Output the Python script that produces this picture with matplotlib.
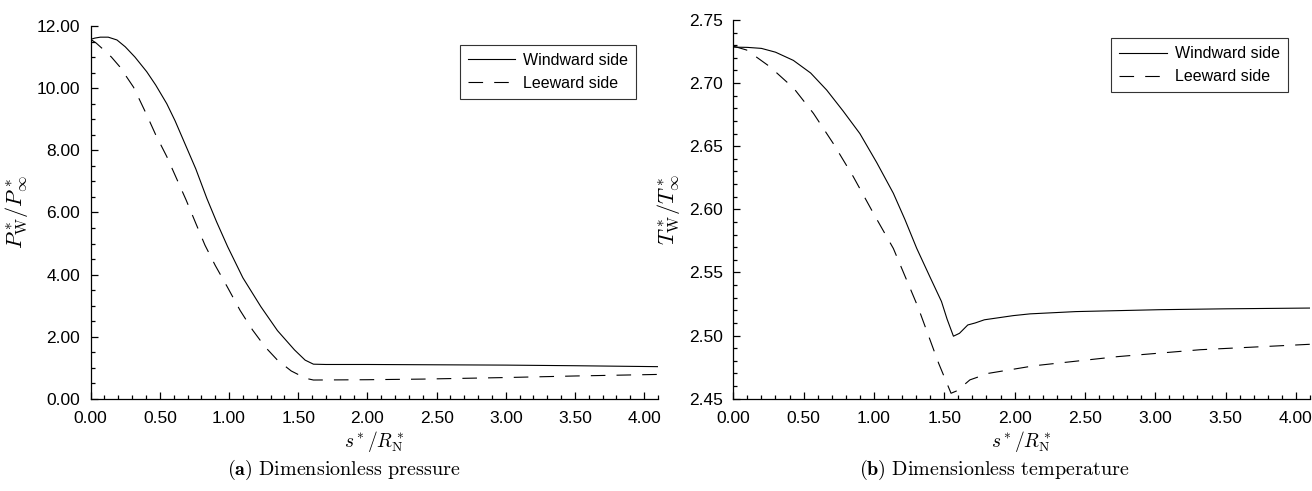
import matplotlib
matplotlib.use("Agg")
import matplotlib.pyplot as plt
from matplotlib.ticker import MultipleLocator, FormatStrFormatter

plt.rcParams["font.family"] = ["Liberation Sans", "DejaVu Sans"]
plt.rcParams["mathtext.fontset"] = "cm"
plt.rcParams["lines.scale_dashes"] = False

# (a) dimensionless wall pressure
s_p_wind = [0, 0.03, 0.07, 0.127, 0.19, 0.25, 0.32, 0.405, 0.47, 0.55, 0.61,
            0.67, 0.76, 0.84, 0.91, 0.99, 1.1, 1.23, 1.35, 1.473, 1.55, 1.61,
            1.7, 2.0, 2.5, 3.0, 3.5, 4.1]
p_wind = [11.57, 11.61, 11.64, 11.64, 11.55, 11.33, 11.0, 10.53, 10.1, 9.5,
          8.95, 8.33, 7.4, 6.45, 5.7, 4.9, 3.9, 2.97, 2.2, 1.58, 1.25, 1.12,
          1.11, 1.11, 1.10, 1.09, 1.07, 1.04]
s_p_lee = [0, 0.04, 0.09, 0.15, 0.21, 0.31, 0.40, 0.47, 0.55, 0.62, 0.69,
           0.76, 0.826, 0.9, 0.987, 1.08, 1.17, 1.26, 1.35, 1.45, 1.53, 1.57,
           1.61, 2.0, 2.4, 3.0, 3.5, 4.1]
p_lee = [11.57, 11.45, 11.25, 11.0, 10.69, 10.03, 9.19, 8.5, 7.80, 7.1, 6.40,
         5.65, 4.95, 4.3, 3.61, 2.85, 2.22, 1.68, 1.25, 0.9, 0.72, 0.65,
         0.61, 0.62, 0.64, 0.69, 0.74, 0.79]

# (b) dimensionless wall temperature
s_t_wind = [0, 0.1, 0.2, 0.3, 0.427, 0.55, 0.664, 0.78, 0.90, 1.02, 1.138,
            1.22, 1.304, 1.40, 1.48, 1.52, 1.565, 1.608, 1.667, 1.72, 1.785,
            1.99, 2.11, 2.436, 3.03, 3.5, 4.1]
t_wind = [2.7285, 2.7283, 2.7275, 2.7245, 2.718, 2.708, 2.6945, 2.678, 2.660,
          2.637, 2.6127, 2.592, 2.5691, 2.546, 2.527, 2.513, 2.4995, 2.5018,
          2.5084, 2.510, 2.5125, 2.5158, 2.5172, 2.5190, 2.5205, 2.5212, 2.5218]
s_t_lee = [0, 0.095, 0.26, 0.43, 0.57, 0.71, 0.853, 0.996, 1.138, 1.312, 1.46,
           1.548, 1.593, 1.682, 1.815, 2.14, 2.73, 3.32, 4.1]
t_lee = [2.7293, 2.7262, 2.713, 2.6959, 2.676, 2.6523, 2.6259, 2.5969, 2.569,
         2.5229, 2.478, 2.4543, 2.4564, 2.4649, 2.4701, 2.4761, 2.4833, 2.4888,
         2.4931]

labels = ["Windward side", "Leeward side"]


def style_axes(ax, ylim, ymajor, yminor):
    ax.set_xlim(0, 4.1)
    ax.set_ylim(*ylim)
    for side in ("top", "right"):
        ax.spines[side].set_visible(False)
    for side in ("left", "bottom"):
        ax.spines[side].set_linewidth(0.9)
    ax.xaxis.set_major_locator(MultipleLocator(0.5))
    ax.xaxis.set_minor_locator(MultipleLocator(0.1))
    ax.yaxis.set_major_locator(MultipleLocator(ymajor))
    ax.yaxis.set_minor_locator(MultipleLocator(yminor))
    ax.xaxis.set_major_formatter(FormatStrFormatter("%.2f"))
    ax.yaxis.set_major_formatter(FormatStrFormatter("%.2f"))
    ax.tick_params(which="both", direction="in", top=False, right=False,
                   labelsize=12.5, width=0.9)
    ax.tick_params(which="major", length=5)
    ax.tick_params(which="minor", length=3)
    ax.tick_params(axis="x", pad=9)
    ax.tick_params(axis="y", pad=7.5)
    ax.set_xlabel(r"$s^*/R^*_{\rm N}$", fontsize=14, labelpad=2)


def draw(ax, sw, yw, sl, yl, anchor):
    ax.plot(sw, yw, color="black", lw=0.8, label=labels[0])
    ax.plot(sl, yl, color="black", lw=0.8, dashes=(10.5, 8), label=labels[1])
    leg = ax.legend(loc="upper right", bbox_to_anchor=anchor, fontsize=11.5,
                    frameon=True, fancybox=False, framealpha=1,
                    edgecolor="#333333", handlelength=3.0, handletextpad=0.5,
                    labelspacing=0.5, borderaxespad=0, borderpad=0.5)
    leg.get_frame().set_linewidth(0.8)


fig = plt.figure(figsize=(13.12, 4.91), dpi=100)
ax1 = fig.add_axes([0.0691, 0.1874, 0.4324, 0.7597])
ax2 = fig.add_axes([0.5589, 0.188, 0.4396, 0.7713])

draw(ax1, s_p_wind, p_wind, s_p_lee, p_lee, (0.962, 0.949))
style_axes(ax1, (0, 12), 2, 0.5)
ax1.set_ylabel(r"$P^*_{\rm W}/P^*_\infty$", fontsize=16, labelpad=5)

draw(ax2, s_t_wind, t_wind, s_t_lee, t_lee, (0.962, 0.952))
style_axes(ax2, (2.45, 2.75), 0.05, 0.01)
ax2.set_ylabel(r"$T^*_{\rm W}/T^*_\infty$", fontsize=16, labelpad=5)

fig.text(0.262, 0.043, r"$\mathbf{(a)}\ \mathrm{Dimensionless\ pressure}$",
         ha="center", va="center", fontsize=14.5)
fig.text(0.758, 0.043, r"$\mathbf{(b)}\ \mathrm{Dimensionless\ temperature}$",
         ha="center", va="center", fontsize=14.5)

fig.savefig("out.png", dpi=100)
